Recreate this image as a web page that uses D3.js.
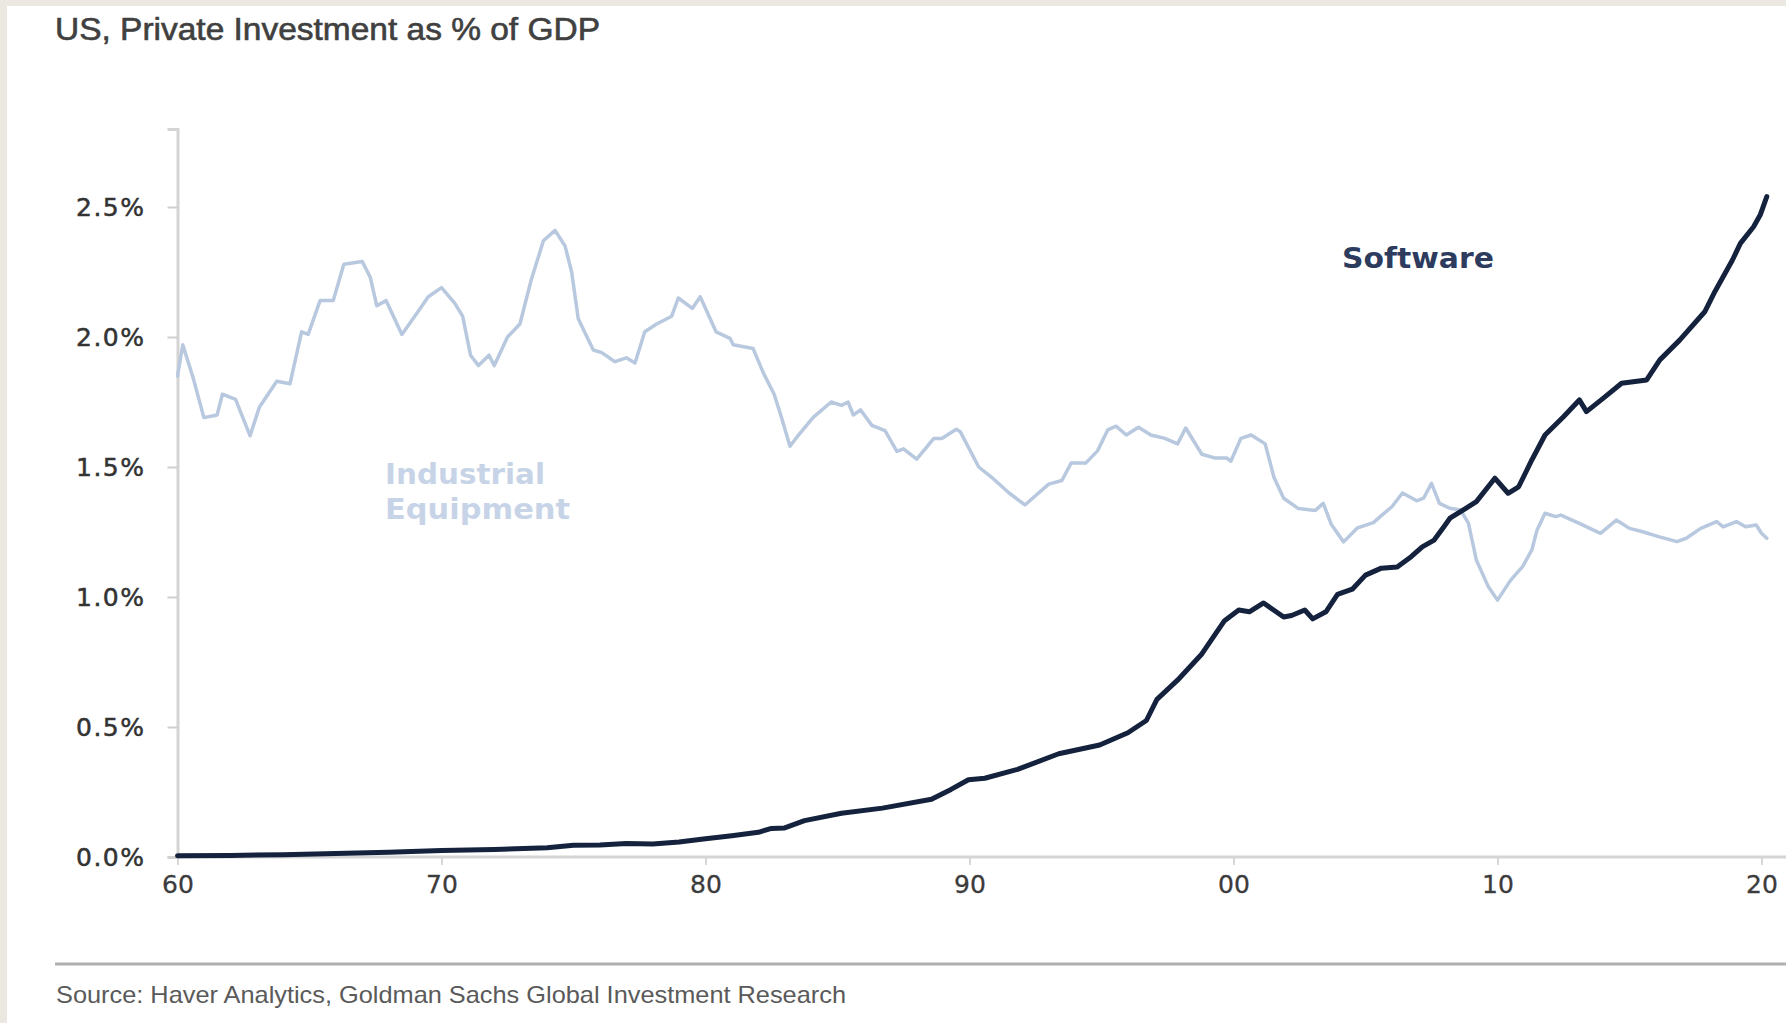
<!DOCTYPE html>
<html>
<head>
<meta charset="utf-8">
<script src="https://cdn.jsdelivr.net/npm/d3@7"></script>
<style>
  html, body { margin: 0; padding: 0; background: #ffffff; overflow: hidden; }
  svg { display: block; }
</style>
</head>
<body>
<svg id="chart" width="1786" height="1023"></svg>
<script>
// Decimal-year positions and values (% of GDP) for each series
const equipmentYears = [
  1960.0, 1960.2, 1960.6, 1961.0, 1961.5, 1961.7, 1962.2, 1962.75, 1963.1, 1963.76,
  1964.26, 1964.7, 1964.95, 1965.4, 1965.9, 1966.3, 1967.0, 1967.3, 1967.55, 1967.9,
  1968.5, 1969.06, 1969.5, 1970.0, 1970.5, 1970.8, 1971.1, 1971.4, 1971.8, 1972.0,
  1972.5, 1972.97, 1973.4, 1973.86, 1974.3, 1974.68, 1974.93, 1975.18, 1975.75, 1976.07,
  1976.57, 1977.0, 1977.33, 1977.7, 1978.15, 1978.72, 1978.97, 1979.5, 1979.8, 1980.4,
  1980.93, 1981.05, 1981.8, 1982.2, 1982.6, 1982.85, 1983.2, 1983.5, 1984.07, 1984.76,
  1985.15, 1985.4, 1985.6, 1985.87, 1986.3, 1986.8, 1987.25, 1987.5, 1988.0, 1988.65,
  1988.95, 1989.5, 1989.65, 1990.35, 1990.9, 1991.5, 1992.1, 1993.0, 1993.5, 1993.85,
  1994.4, 1994.85, 1995.24, 1995.55, 1995.94, 1996.4, 1996.87, 1997.4, 1997.88, 1998.19,
  1998.8, 1999.28, 1999.74, 1999.9, 2000.28, 2000.67, 2001.2, 2001.53, 2001.9, 2002.46,
  2003.1, 2003.4, 2003.7, 2004.17, 2004.7, 2005.3, 2005.6, 2006.0, 2006.4, 2006.94,
  2007.2, 2007.5, 2007.8, 2008.2, 2008.6, 2008.9, 2009.2, 2009.65, 2010.0, 2010.5,
  2010.95, 2011.3, 2011.5, 2011.8, 2012.2, 2012.4, 2013.1, 2013.9, 2014.5, 2015.0,
  2015.5, 2016.1, 2016.8, 2017.15, 2017.7, 2018.3, 2018.55, 2019.05, 2019.4, 2019.8,
  2020.0, 2020.2
];
const equipmentValues = [
  1.85, 1.97, 1.84, 1.69, 1.70, 1.78, 1.76, 1.62, 1.73, 1.83,
  1.82, 2.02, 2.01, 2.14, 2.14, 2.28, 2.29, 2.23, 2.12, 2.14,
  2.01, 2.09, 2.155, 2.19, 2.13, 2.08, 1.93, 1.89, 1.93, 1.89,
  2.00, 2.05, 2.22, 2.37, 2.41, 2.35, 2.25, 2.07, 1.95, 1.94,
  1.905, 1.92, 1.90, 2.02, 2.05, 2.08, 2.15, 2.11, 2.155, 2.02,
  1.995, 1.97, 1.956, 1.86, 1.78, 1.70, 1.58, 1.62, 1.69, 1.75,
  1.737, 1.75, 1.70, 1.72, 1.66, 1.64, 1.56, 1.57, 1.53, 1.61,
  1.61, 1.645, 1.636, 1.50, 1.455, 1.40, 1.354, 1.434, 1.448, 1.515,
  1.515, 1.562, 1.643, 1.657, 1.623, 1.653, 1.623, 1.61, 1.589, 1.65,
  1.549, 1.535, 1.535, 1.522, 1.61, 1.623, 1.589, 1.461, 1.38, 1.34,
  1.333, 1.36, 1.28, 1.212, 1.266, 1.286, 1.313, 1.347, 1.40, 1.37,
  1.38, 1.437, 1.36, 1.341, 1.335, 1.283, 1.142, 1.04, 0.988, 1.065,
  1.117, 1.181, 1.258, 1.322, 1.309, 1.315, 1.283, 1.245, 1.296, 1.264,
  1.251, 1.232, 1.213, 1.226, 1.264, 1.29, 1.27, 1.29, 1.27, 1.277,
  1.245, 1.226
];

const softwareYears = [
  1960, 1962, 1964, 1966, 1968, 1970, 1972, 1974, 1975, 1976,
  1977, 1978, 1979, 1980, 1981, 1982, 1982.5, 1983, 1983.75, 1985.15,
  1986.7, 1988.56, 1989.3, 1989.96, 1990.58, 1991.82, 1993.38, 1994.93, 1996.0, 1996.7,
  1997.1, 1997.88, 1998.8, 1999.66, 2000.2, 2000.6, 2001.14, 2001.9, 2002.2, 2002.7,
  2003.0, 2003.5, 2003.94, 2004.5, 2005.0, 2005.6, 2006.2, 2006.73, 2007.15, 2007.6,
  2007.97, 2008.2, 2008.8, 2009.2, 2009.9, 2010.4, 2010.8, 2011.3, 2011.8, 2012.5,
  2013.1, 2013.37, 2014.0, 2014.7, 2015.65, 2016.15, 2016.9, 2017.85, 2018.2, 2018.9,
  2019.2, 2019.7, 2019.95, 2020.2
];
const softwareValues = [
  0.005, 0.006, 0.009, 0.013, 0.018, 0.025, 0.029, 0.036, 0.045, 0.046,
  0.052, 0.05, 0.058, 0.07, 0.082, 0.095, 0.11, 0.112, 0.14, 0.168,
  0.188, 0.222, 0.26, 0.297, 0.303, 0.337, 0.397, 0.431, 0.478, 0.525,
  0.606, 0.68, 0.781, 0.909, 0.95, 0.943, 0.977, 0.923, 0.929, 0.95,
  0.916, 0.943, 1.01, 1.03, 1.084, 1.111, 1.115, 1.155, 1.193, 1.219,
  1.27, 1.303, 1.341, 1.367, 1.457, 1.399, 1.424, 1.527, 1.623, 1.693,
  1.758, 1.713, 1.764, 1.822, 1.835, 1.912, 1.988, 2.097, 2.168, 2.296,
  2.36, 2.424, 2.469, 2.54
];

const yTickValues = [0, 0.5, 1.0, 1.5, 2.0, 2.5];
const xTickYears = [1960, 1970, 1980, 1990, 2000, 2010, 2020];
const xTickLabels = ["60", "70", "80", "90", "00", "10", "20"];

const titleText = "US, Private Investment as % of GDP";
const sourceText = "Source: Haver Analytics, Goldman Sachs Global Investment Research";
const seriesLabels = { software: "Software", equipment: ["Industrial", "Equipment"] };

const svg = d3.select("#chart");
const W = 1786, H = 1023;

// page frame: beige margin on the top and left edge
svg.append("rect").attr("x", 0).attr("y", 0).attr("width", W).attr("height", H).attr("fill", "#ebe8e1");
svg.append("rect").attr("x", 7).attr("y", 6).attr("width", W).attr("height", H).attr("fill", "#ffffff");

const x = d3.scaleLinear().domain([1960, 2020]).range([177.5, 1761.5]);
const y = d3.scaleLinear().domain([0, 2.8]).range([857, 129]);

// title
svg.append("text")
  .attr("x", 55).attr("y", 40)
  .attr("font-family", "Liberation Sans, Arial, sans-serif")
  .attr("font-size", 31)
  .attr("fill", "#404040")
  .attr("stroke", "#404040").attr("stroke-width", 0.6)
  .attr("textLength", 545).attr("lengthAdjust", "spacingAndGlyphs")
  .text(titleText);

// y axis
const yAxis = d3.axisLeft(y)
  .tickValues(yTickValues)
  .tickSize(10)
  .tickPadding(22)
  .tickFormat(d => d3.format(".1f")(d) + "%");
const gy = svg.append("g").attr("transform", `translate(${x(1960)},0)`).call(yAxis);
gy.select(".domain").attr("stroke", "#d4d4d4").attr("stroke-width", 3);
gy.selectAll(".tick line").attr("stroke", "#cfcfcf").attr("stroke-width", 2);
gy.selectAll(".tick text")
  .attr("font-family", "DejaVu Sans, Verdana, sans-serif")
  .attr("font-size", 25)
  .attr("letter-spacing", 1.5)
  .attr("fill", "#333333")
  .attr("stroke", "#333333").attr("stroke-width", 0.5);

// x axis
const xAxis = d3.axisBottom(x)
  .tickValues(xTickYears)
  .tickSize(8)
  .tickPadding(10)
  .tickFormat((d, i) => xTickLabels[i]);
const gx = svg.append("g").attr("transform", `translate(0,${y(0)})`).call(xAxis);
gx.select(".domain").remove();
gx.append("line")
  .attr("x1", x(1960)).attr("x2", W + 10)
  .attr("y1", 0).attr("y2", 0)
  .attr("stroke", "#d4d4d4").attr("stroke-width", 3);
gx.selectAll(".tick line").attr("stroke", "#d8d8d8").attr("stroke-width", 2);
gx.selectAll(".tick text")
  .attr("font-family", "DejaVu Sans, Verdana, sans-serif")
  .attr("font-size", 25)
  .attr("fill", "#3c3c3c")
  .attr("stroke", "#3c3c3c").attr("stroke-width", 0.3);

// series lines
const line = d3.line().x(d => x(d[0])).y(d => y(d[1]));

const equipment = equipmentYears.map((yr, i) => [yr, equipmentValues[i]]);
const software = softwareYears.map((yr, i) => [yr, softwareValues[i]]);

svg.append("path")
  .datum(equipment)
  .attr("d", line)
  .attr("fill", "none")
  .attr("stroke", "#b7c8df")
  .attr("stroke-width", 3.5)
  .attr("stroke-linejoin", "round")
  .attr("stroke-linecap", "round");

svg.append("path")
  .datum(software)
  .attr("d", line)
  .attr("fill", "none")
  .attr("stroke", "#15223d")
  .attr("stroke-width", 5)
  .attr("stroke-linejoin", "round")
  .attr("stroke-linecap", "round");

// series labels
svg.append("text")
  .attr("x", 1342).attr("y", 268)
  .attr("font-family", "DejaVu Sans, Verdana, sans-serif")
  .attr("font-weight", "bold")
  .attr("font-size", 29)
  .attr("fill", "#2c3b5e")
  .attr("textLength", 152).attr("lengthAdjust", "spacingAndGlyphs")
  .text(seriesLabels.software);

const eqLabel = svg.append("text")
  .attr("font-family", "DejaVu Sans, Verdana, sans-serif")
  .attr("font-weight", "bold")
  .attr("font-size", 28)
  .attr("fill", "#c7d4e7");
eqLabel.append("tspan").attr("x", 385).attr("y", 484)
  .attr("textLength", 160).attr("lengthAdjust", "spacingAndGlyphs")
  .text(seriesLabels.equipment[0]);
eqLabel.append("tspan").attr("x", 385).attr("y", 519)
  .attr("textLength", 185).attr("lengthAdjust", "spacingAndGlyphs")
  .text(seriesLabels.equipment[1]);

// footer rule and source note
svg.append("line")
  .attr("x1", 55).attr("x2", W + 10)
  .attr("y1", 964).attr("y2", 964)
  .attr("stroke", "#b0b0b0").attr("stroke-width", 3);

svg.append("text")
  .attr("x", 56).attr("y", 1003)
  .attr("font-family", "Liberation Sans, Arial, sans-serif")
  .attr("font-size", 24)
  .attr("fill", "#5a5a5a")
  .attr("textLength", 790).attr("lengthAdjust", "spacingAndGlyphs")
  .text(sourceText);
</script>
</body>
</html>
